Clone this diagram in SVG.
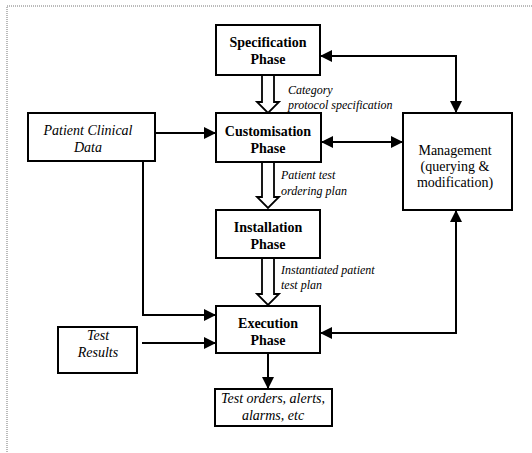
<svg xmlns="http://www.w3.org/2000/svg" width="532" height="453" viewBox="0 0 532 453">
<style>
text{font-family:'Liberation Serif','Times New Roman',Times,serif}
.box{fill:#fff;stroke:#000;stroke-width:2}
.b{font-weight:bold;font-size:14px;text-anchor:middle}
.r{font-size:14px;text-anchor:middle}
.i{font-style:italic;font-size:14px;text-anchor:middle}
.l{font-style:italic;font-size:12px}
.ln{fill:none;stroke:#000;stroke-width:2}
.hollow{fill:#fff;stroke:#000;stroke-width:1.8;stroke-linejoin:miter}
</style>
<defs>
<marker id="ah" markerWidth="12" markerHeight="12" viewBox="0 0 12 12" refX="11" refY="6" orient="auto-start-reverse" markerUnits="userSpaceOnUse">
<path d="M0,0 L12,6 L0,12 Z" fill="#000"/>
</marker>
</defs>
<rect x="7" y="6" width="530" height="460" fill="none" stroke="#777" stroke-width="1" stroke-dasharray="1,1"/>
<g id="connectors">
<path class="hollow" d="M262,75 L262,102 L257,102 L268,113 L279,102 L274,102 L274,75"/>
<path class="hollow" d="M262,162 L262,197 L257,197 L268,208 L279,197 L274,197 L274,162"/>
<path class="hollow" d="M262,258 L262,294 L257,294 L268,305 L279,294 L274,294 L274,258"/>
<path class="ln" d="M321,56 L456,56 L456,112" marker-start="url(#ah)" marker-end="url(#ah)"/>
<path class="ln" d="M322,142 L402,142" marker-start="url(#ah)" marker-end="url(#ah)"/>
<path class="ln" d="M155,133 L215,133" marker-end="url(#ah)"/>
<path class="ln" d="M143,161 L143,315 L215,315" marker-end="url(#ah)"/>
<path class="ln" d="M142,343 L215,343" marker-end="url(#ah)"/>
<path class="ln" d="M456,211 L456,333 L321,333" marker-start="url(#ah)" marker-end="url(#ah)"/>
<path class="ln" d="M268,353 L268,388" marker-end="url(#ah)"/>
<text class="l" x="288" y="94">Category</text>
<text class="l" x="288" y="109">protocol specification</text>
<text class="l" x="281" y="179">Patient test</text>
<text class="l" x="281" y="195">ordering plan</text>
<text class="l" x="281" y="274">Instantiated patient</text>
<text class="l" x="281" y="289">test plan</text>
</g>
<g id="spec">
<rect class="box" x="216" y="25" width="104" height="50"/>
<text class="b" x="268" y="47">Specification</text>
<text class="b" x="268" y="64">Phase</text>
</g>
<g id="custom">
<rect class="box" x="216" y="113" width="105" height="49"/>
<text class="b" x="268" y="136">Customisation</text>
<text class="b" x="268" y="153">Phase</text>
</g>
<g id="pcd">
<rect class="box" x="28" y="113" width="127" height="48"/>
<text class="i" x="88" y="135">Patient Clinical</text>
<text class="i" x="88" y="152">Data</text>
</g>
<g id="mgmt">
<rect class="box" x="403" y="113" width="109" height="97"/>
<text class="r" x="455" y="155">Management</text>
<text class="r" x="455" y="171">(querying &amp;</text>
<text class="r" x="455" y="187">modification)</text>
</g>
<g id="install">
<rect class="box" x="216" y="210" width="104" height="48"/>
<text class="b" x="268" y="232">Installation</text>
<text class="b" x="268" y="249">Phase</text>
</g>
<g id="exec">
<rect class="box" x="216" y="306" width="104" height="47"/>
<text class="b" x="268" y="328">Execution</text>
<text class="b" x="268" y="345">Phase</text>
</g>
<g id="results">
<rect class="box" x="58" y="327" width="79" height="46"/>
<text class="i" x="98" y="340">Test</text>
<text class="i" x="98" y="357">Results</text>
</g>
<g id="orders">
<rect class="box" x="215" y="389" width="117" height="37"/>
<text class="i" x="273" y="403">Test orders, alerts,</text>
<text class="i" x="273" y="420">alarms, etc</text>
</g>
</svg>
